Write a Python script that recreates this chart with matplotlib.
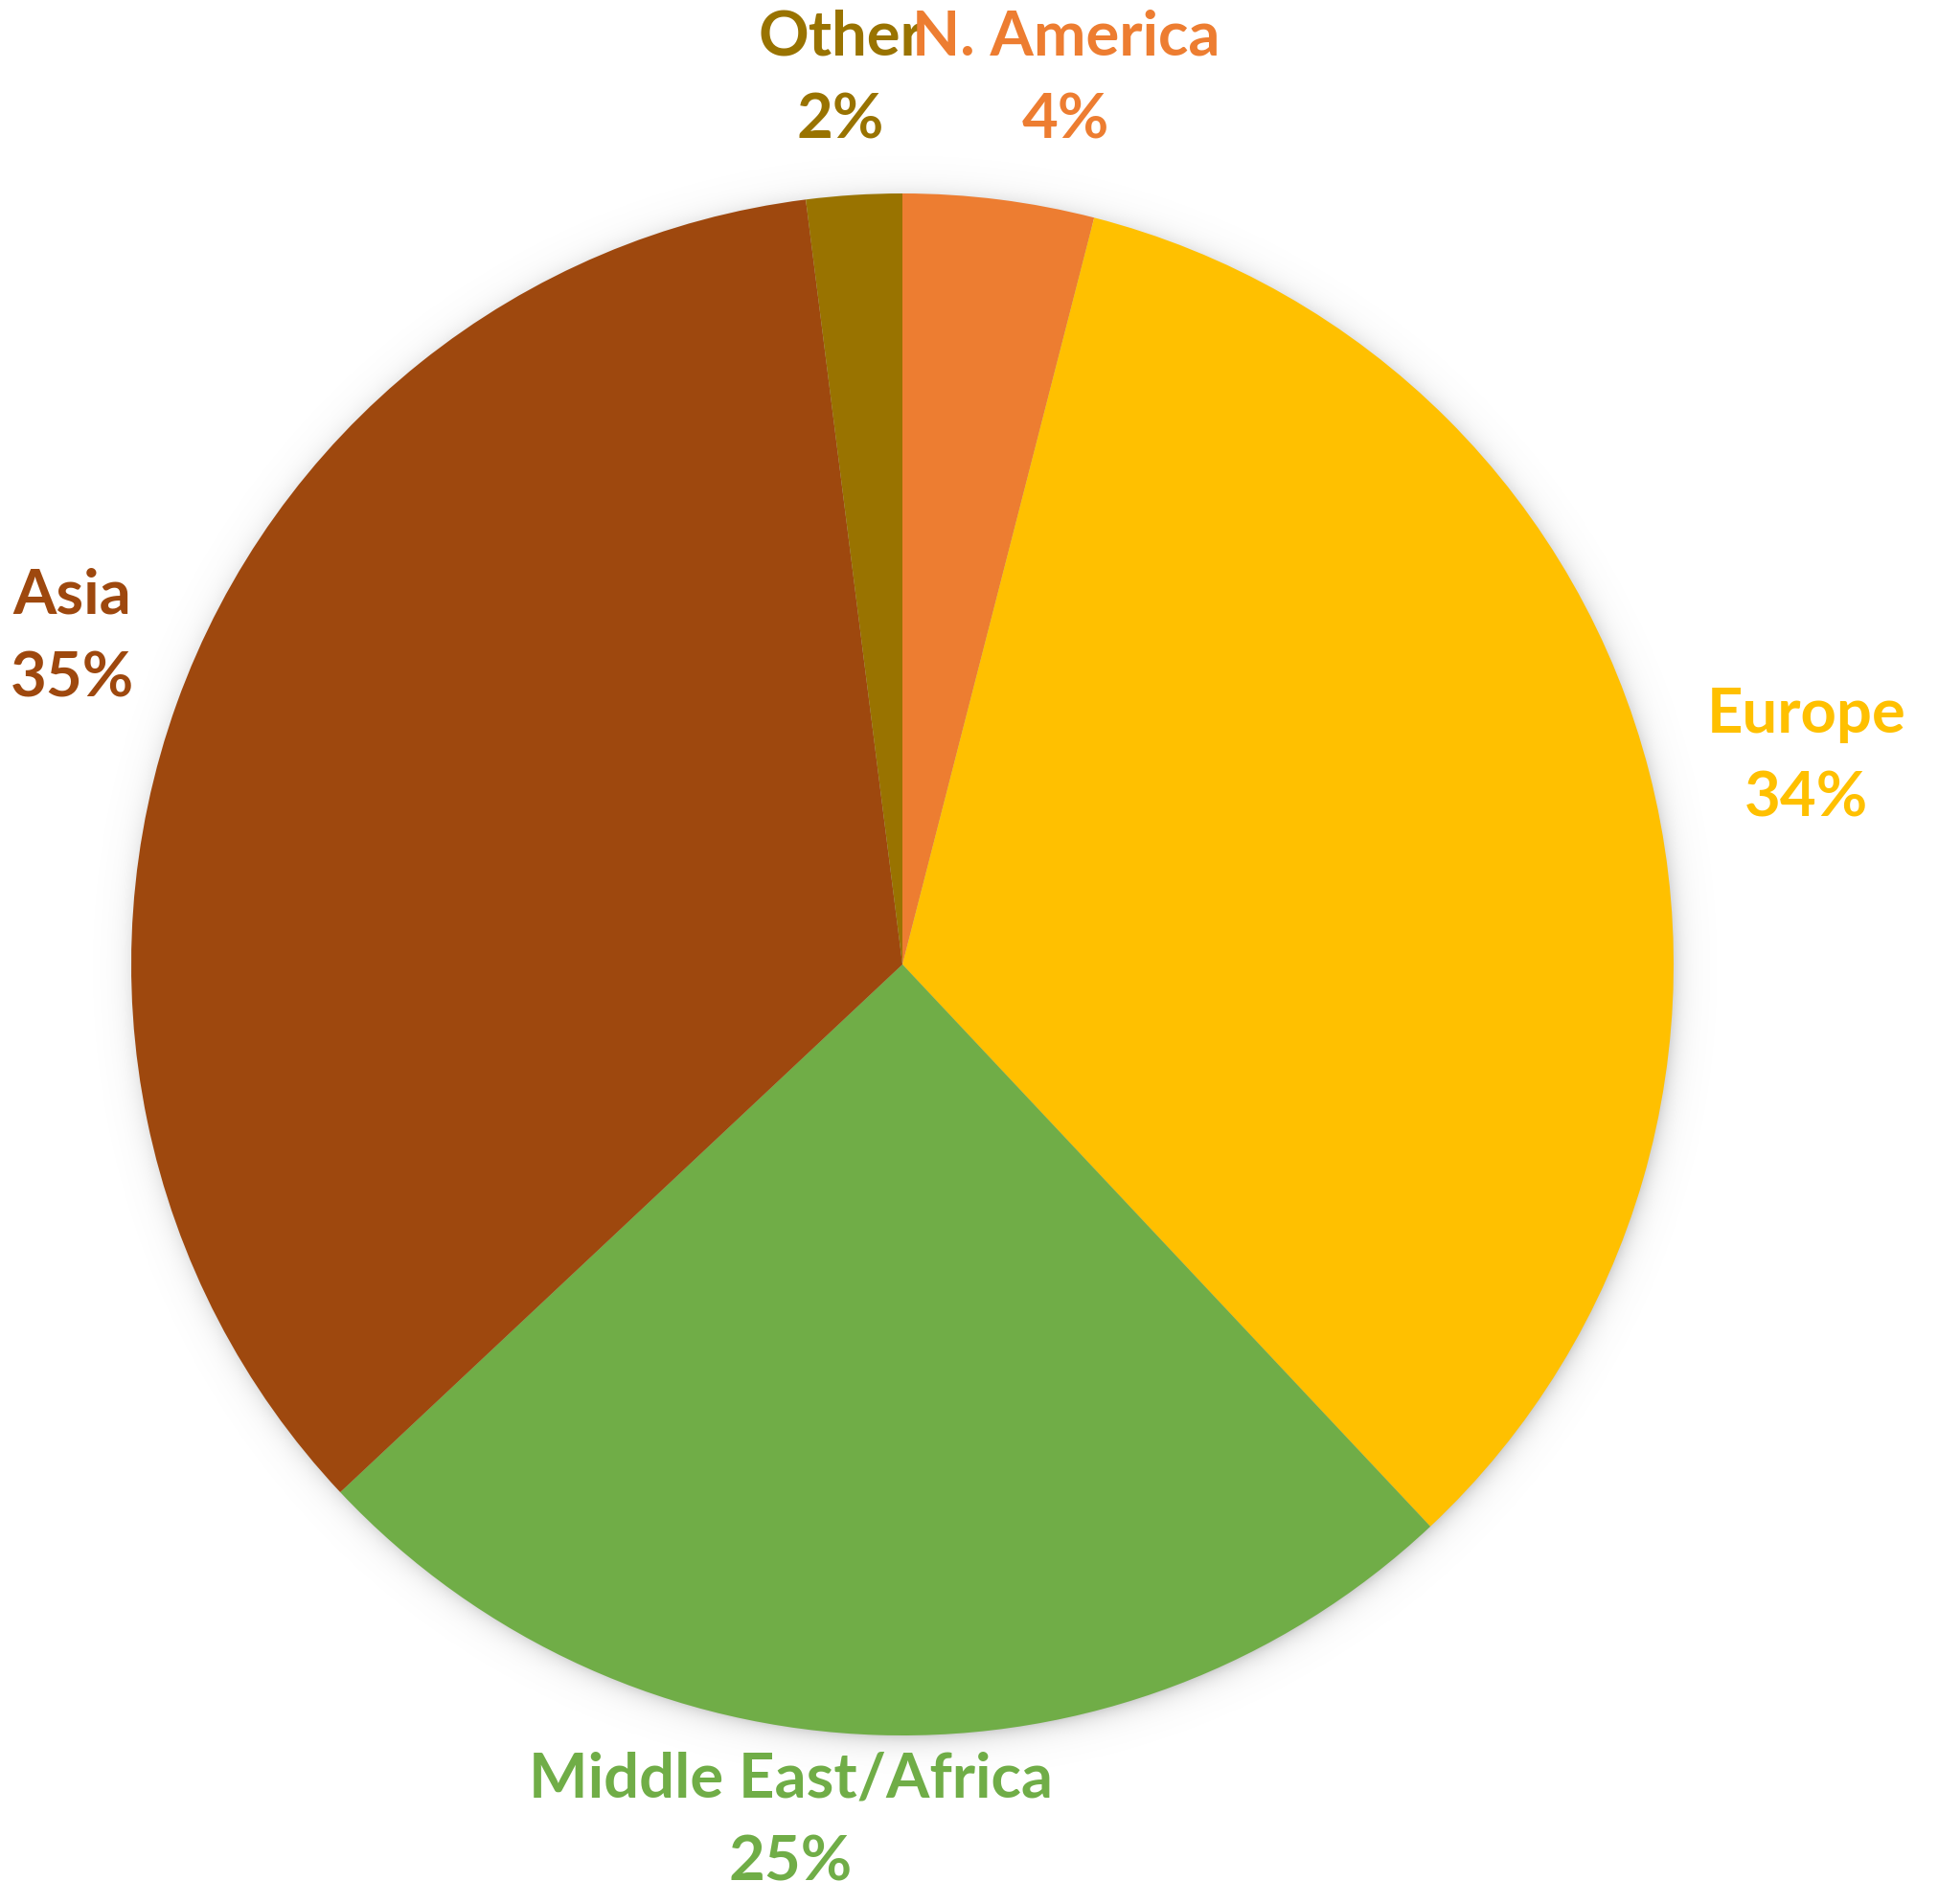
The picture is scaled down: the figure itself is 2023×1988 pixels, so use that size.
import numpy as np
import matplotlib
matplotlib.use("Agg")
import matplotlib.pyplot as plt

# Regional share data, clockwise from 12 o'clock
regions = ["N. America", "Europe", "Middle East/Africa", "Asia", "Other"]
shares = [4, 34, 25, 35, 2]
colors = ["#ED7D31", "#FFC000", "#70AD47", "#9E480E", "#997300"]

# Label anchor points (axes data units, pie radius = 1)
label_xy = {
    "N. America": (0.212, 1.18),
    "Europe": (1.172, 0.30),
    "Middle East/Africa": (-0.145, -1.08),
    "Asia": (-1.077, 0.455),
    "Other": (-0.08, 1.18),
}

W, H = 2024, 1988
fig = plt.figure(figsize=(W / 100, H / 100), dpi=100)
cx, cy, R = 942, 1007, 805
ax = fig.add_axes([(cx - R) / W, (H - cy - R) / H, 2 * R / W, 2 * R / H])
ax.axis("off")

# soft drop shadow around the pie
g = np.linspace(-1.1, 1.1, 900)
xx, yy = np.meshgrid(g, g)
rr = np.hypot(xx - 0.004, yy + 0.006)
alpha = np.where(rr > 0.99, 0.55 * np.exp(-np.clip(rr - 0.99, 0, None) / 0.013), 0.55)
shadow = np.zeros((900, 900, 4))
shadow[..., :3] = 0.5
shadow[..., 3] = alpha
img = ax.imshow(shadow, extent=(-1.1, 1.1, -1.1, 1.1), origin="lower", zorder=0,
                interpolation="bilinear")
img.set_clip_on(False)

ax.pie(shares, colors=colors, startangle=90, counterclock=False, radius=1.0,
       wedgeprops=dict(linewidth=0), center=(0, 0), frame=False)
for w in ax.patches:
    w.set_zorder(2)
ax.set_xlim(-1, 1)
ax.set_ylim(-1, 1)
ax.set_aspect("equal")

font = dict(family=["Lato", "DejaVu Sans"], fontweight="bold", fontsize=47)
for i, (name, val, col) in enumerate(zip(regions, shares, colors)):
    x, y = label_xy[name]
    z = 10 - i  # earlier labels sit on top of later ones
    ax.text(x, y, name, color=col, ha="center", va="baseline", clip_on=False,
            zorder=z, **font)
    ax.text(x, y - 0.108, f"{val}%", color=col, ha="center", va="baseline",
            clip_on=False, zorder=z, **font)

fig.savefig("out.png", dpi=100, facecolor="white")
